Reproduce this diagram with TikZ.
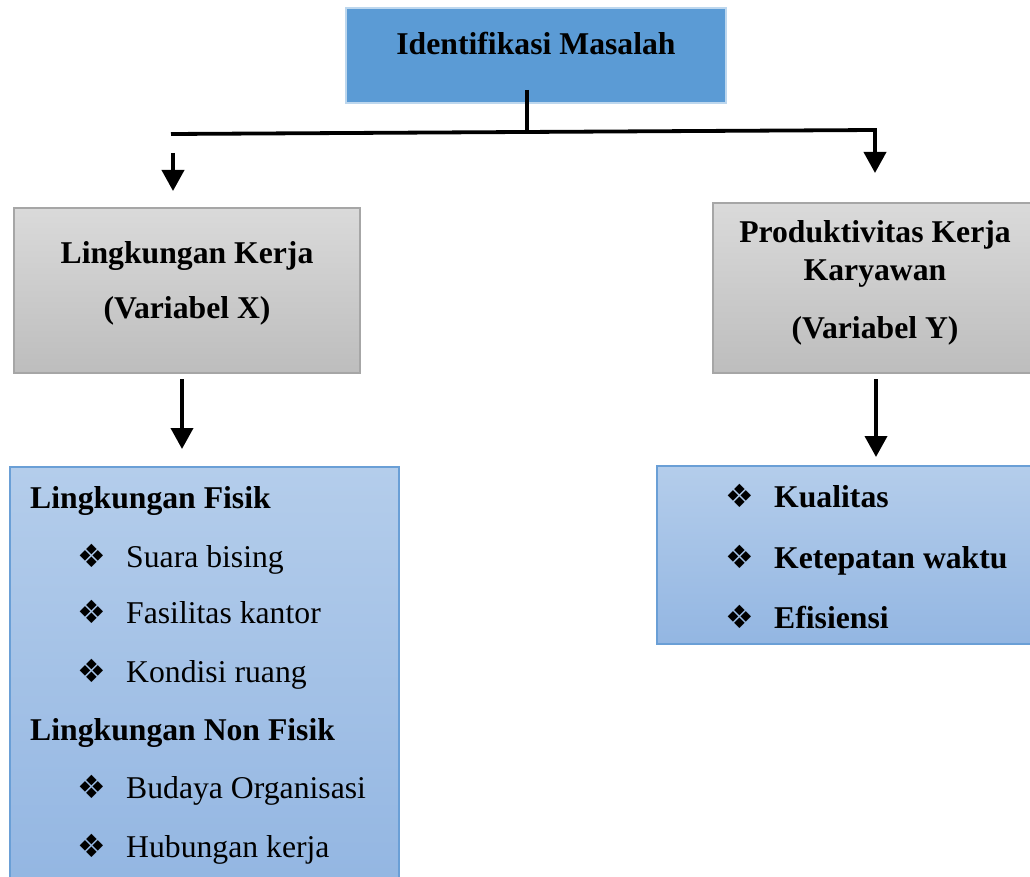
\documentclass[tikz,border=0pt]{standalone}
\usepackage{fontspec}
\setmainfont{Liberation Serif}
\newfontfamily\dvsym{DejaVu Sans}
\usetikzlibrary{arrows.meta}
\definecolor{topblue}{HTML}{5B9BD5}
\definecolor{topedge}{HTML}{BDD7EE}
\definecolor{graytop}{HTML}{DADADA}
\definecolor{graybot}{HTML}{BDBDBD}
\definecolor{grayedge}{HTML}{A6A6A6}
\definecolor{bluetop}{HTML}{B4CDEB}
\definecolor{bluebot}{HTML}{93B6E2}
\definecolor{blueedge}{HTML}{6A9FD6}
\newcommand{\bul}{{\dvsym\fontsize{32}{36}\selectfont ❖}}
\begin{document}
\begin{tikzpicture}[x=1pt,y=-1pt,
  boxbase/.style={anchor=north west,inner sep=0pt,outer sep=0pt},
  topbox/.style={boxbase,fill=topblue,draw=topedge,line width=2.5pt},
  graybox/.style={boxbase,top color=graytop,bottom color=graybot,draw=grayedge,line width=1.5pt},
  bluebox/.style={boxbase,top color=bluetop,bottom color=bluebot,draw=blueedge,line width=1.8pt},
  txt/.style={inner sep=0pt,font=\fontsize{31.7}{38}\selectfont},
  ltxt/.style={txt,anchor=base west},
  ctxt/.style={txt,anchor=base},
  btxt/.style={ltxt,font=\fontsize{31.7}{38}\selectfont\bfseries},
  cbtxt/.style={ctxt,font=\fontsize{31.7}{38}\selectfont\bfseries},
  bulnode/.style={inner sep=0pt,anchor=base west},
  conn/.style={line width=3.8pt,line join=miter},
  arr/.style={conn,-{Triangle[width=22pt,length=21pt]}}
]
\clip (0,0) rectangle (1030,877);
\fill[white] (0,0) rectangle (1030,877);

% boxes
\node[topbox,minimum width=380pt,minimum height=95pt] (ident) at (346,8) {};
\node[graybox,minimum width=346pt,minimum height=165pt] (lk) at (14,208) {};
\node[graybox,minimum width=330pt,minimum height=170pt] (pk) at (713,203) {};
\node[bluebox,minimum width=389pt,minimum height=420pt] (lbl) at (10,467) {};
\node[bluebox,minimum width=390pt,minimum height=178pt] (rbl) at (657,466) {};

% texts
\node[cbtxt] (identt) at (536,55) {Identifikasi Masalah};
\node[cbtxt] (lk1) at (187,263) {Lingkungan Kerja};
\node[cbtxt] (lk2) at (187,318) {(Variabel X)};
\node[cbtxt] (pk1) at (875,243) {Produktivitas Kerja};
\node[cbtxt] (pk2) at (875,280) {Karyawan};
\node[cbtxt] (pk3) at (875,338) {(Variabel Y)};

\node[btxt] (h1) at (30,508) {Lingkungan Fisik};
\node[bulnode] (b1) at (77,567) {\bul};
\node[ltxt] (t1) at (126,567) {Suara bising};
\node[bulnode] (b2) at (77,623) {\bul};
\node[ltxt] (t2) at (126,623) {Fasilitas kantor};
\node[bulnode] (b3) at (77,682) {\bul};
\node[ltxt] (t3) at (126,682) {Kondisi ruang};
\node[btxt] (h2) at (30,740) {Lingkungan Non Fisik};
\node[bulnode] (b4) at (77,798) {\bul};
\node[ltxt] (t4) at (126,798) {Budaya Organisasi};
\node[bulnode] (b5) at (77,857) {\bul};
\node[ltxt] (t5) at (126,857) {Hubungan kerja};

\node[bulnode] (r1b) at (725,507) {\bul};
\node[btxt] (r1) at (774,507) {Kualitas};
\node[bulnode] (r2b) at (725,568) {\bul};
\node[btxt] (r2) at (774,568) {Ketepatan waktu};
\node[bulnode] (r3b) at (725,628) {\bul};
\node[btxt] (r3) at (774,628) {Efisiensi};

% connectors
\coordinate (stem) at (527,90);
\coordinate (hm) at (527,132);
\coordinate (hl) at (171,134);
\coordinate (hr) at (875,130);
\coordinate (rtip) at (875,173);
\coordinate (ls) at (173,153);
\coordinate (ltip) at (173,191);
\coordinate (lks) at (182,379);
\coordinate (lkt) at (182,449);
\coordinate (pks) at (876,379);
\coordinate (pkt) at (876,457);

\draw[conn] (stem) -- (hm);
\draw[arr] (hl) -- (hr) -- (rtip);
\draw[arr] (ls) -- (ltip);
\draw[arr] (lks) -- (lkt);
\draw[arr] (pks) -- (pkt);
\end{tikzpicture}
\end{document}
